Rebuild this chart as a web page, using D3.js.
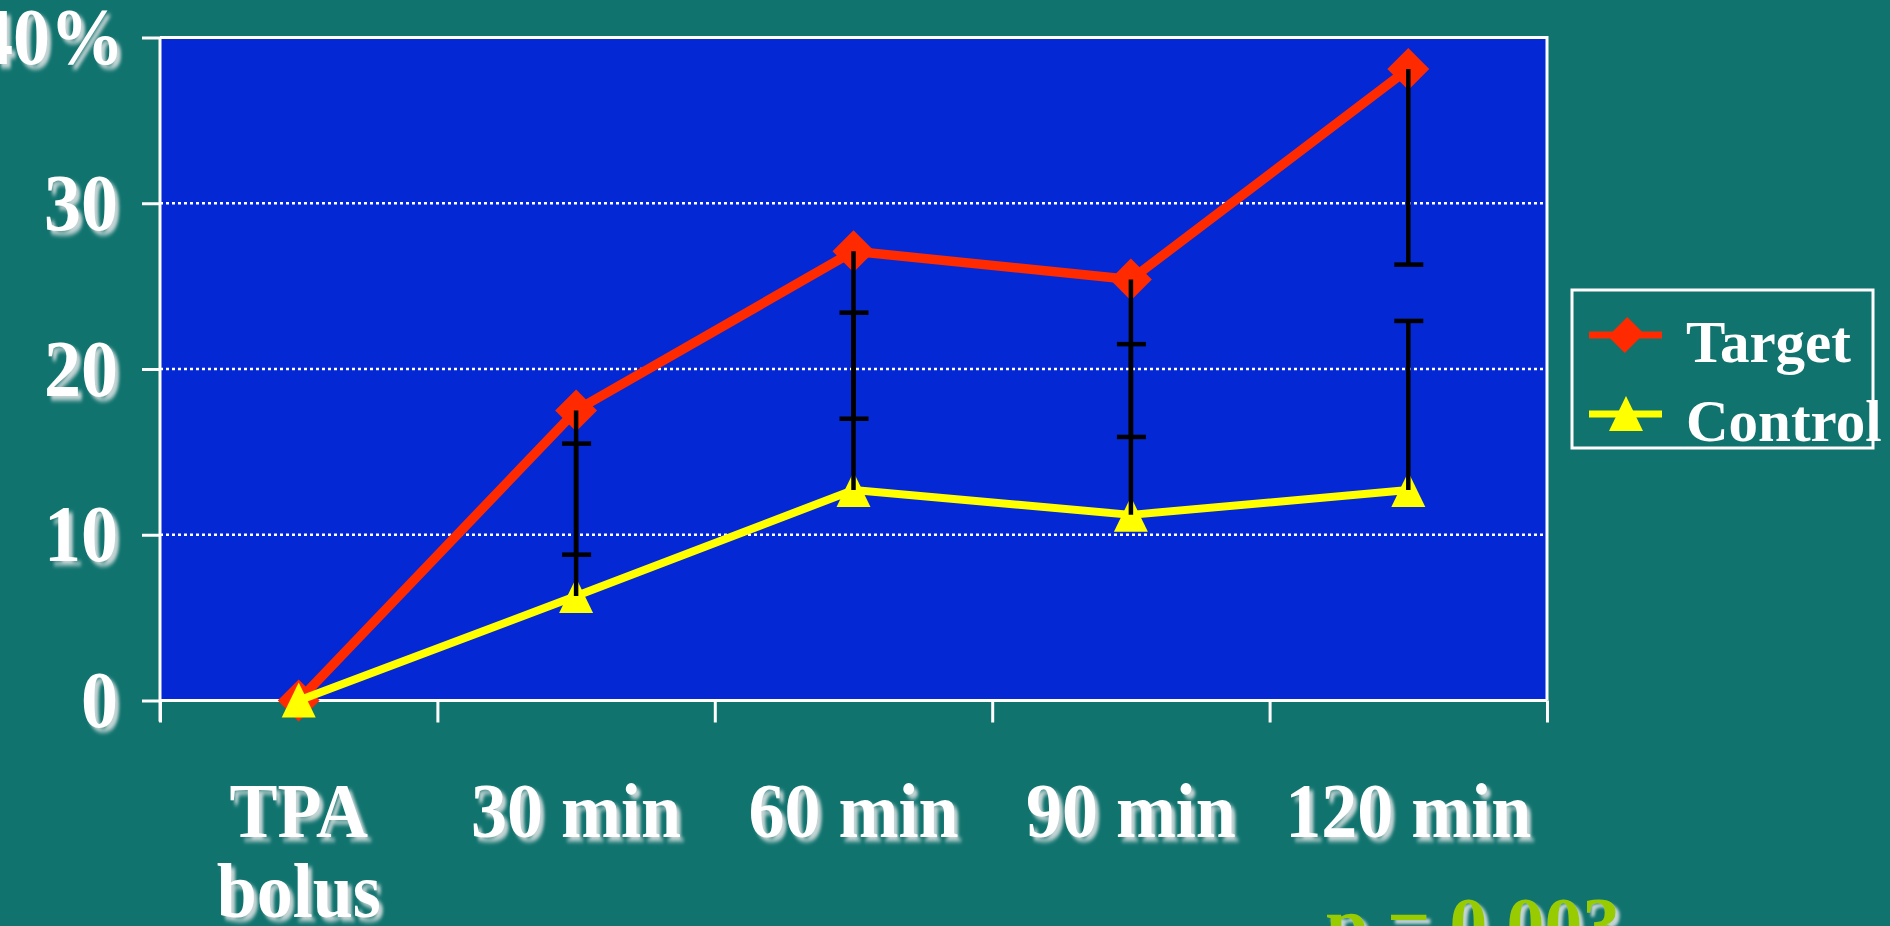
<!DOCTYPE html>
<html>
<head>
<meta charset="utf-8">
<script src="https://cdn.jsdelivr.net/npm/d3@7/dist/d3.min.js"></script>
<style>
  html, body { margin: 0; padding: 0; background: #10736e; overflow: hidden; }
  svg { display: block; }
  text { font-family: "Liberation Serif", "Times New Roman", serif; font-weight: bold; }
</style>
</head>
<body>
<svg id="chart" width="1890" height="926"></svg>
<script>
// Time points after the TPA bolus
const categories = ["TPA\nbolus", "30 min", "60 min", "90 min", "120 min"];
// Percentage values per group
const targetValues  = [0, 17.5, 27.1, 25.4, 38.1];
const controlValues = [0, 6.3, 12.7, 11.2, 12.7];
// One-sided error bars: Target drawn downward, Control drawn upward
const targetErr  = [0, 8.7, 10.1, 9.5, 11.8];
const controlErr = [0, 9.2, 10.7, 10.3, 10.2];
// Y axis ticks
const yTicks = [0, 10, 20, 30, 40];
const seriesNames = ["Target", "Control"];
const pValueText = "p = 0.003";

const colors = { bg: "#10736e", plot: "#0428d3", target: "#ff2a00", control: "#ffff00", p: "#99cc00" };
const margin = { left: 160, right: 1547, top: 37.5, bottom: 700.5 };
const stretch = 1.1; // tall serif labels

const svg = d3.select("#chart");
svg.append("rect").attr("width", 1890).attr("height", 926).attr("fill", colors.bg);

// soft light drop shadow used on axis labels
const defs = svg.append("defs");
const f = defs.append("filter").attr("id", "shadow")
  .attr("x", "-20%").attr("y", "-20%").attr("width", "150%").attr("height", "150%");
f.append("feDropShadow").attr("dx", 4).attr("dy", 4).attr("stdDeviation", 1.8)
  .attr("flood-color", "#d6dede").attr("flood-opacity", 0.9);

const x = d3.scaleBand().domain(categories).range([margin.left, margin.right]).padding(0);
const y = d3.scaleLinear().domain([0, 40]).range([margin.bottom, margin.top]);
const cx = c => x(c) + x.bandwidth() / 2;

// plot background
svg.append("rect")
  .attr("x", margin.left).attr("y", y(40))
  .attr("width", margin.right - margin.left).attr("height", y(0) - y(40))
  .attr("fill", colors.plot);

// dotted gridlines
svg.append("g").selectAll("line").data(yTicks.filter(t => t > 0 && t < 40)).join("line")
  .attr("x1", margin.left).attr("x2", margin.right)
  .attr("y1", d => y(d)).attr("y2", d => y(d))
  .attr("stroke", "#ffffff").attr("stroke-width", 2.5).attr("stroke-dasharray", "3,3");

// frame: top and right edges
svg.append("path")
  .attr("d", `M${margin.left},${y(40)}H${margin.right}V${y(0)}`)
  .attr("fill", "none").attr("stroke", "#ffffff").attr("stroke-width", 3);

// y axis
const yAxis = svg.append("g").attr("transform", `translate(${margin.left},0)`)
  .call(d3.axisLeft(y).tickValues(yTicks).tickSize(18).tickPadding(24)
    .tickFormat(d => d === 40 ? "40%" : d));
yAxis.select(".domain").attr("stroke", "#ffffff").attr("stroke-width", 3)
  .attr("d", `M0,${y(40)}V${y(0) + 21}`);
yAxis.selectAll(".tick line").attr("stroke", "#ffffff").attr("stroke-width", 3);
yAxis.selectAll(".tick text")
  .attr("fill", "#ffffff").attr("font-size", 74).attr("font-family", null)
  .attr("filter", "url(#shadow)")
  .attr("transform", `scale(1,${stretch})`)
  .attr("dx", d => d === 40 ? 6 : 0);

// x axis: boundary ticks between categories
const xb = d3.scaleLinear().domain([0, categories.length]).range([margin.left, margin.right]);
const xTickAxis = svg.append("g").attr("transform", `translate(0,${y(0)})`)
  .call(d3.axisBottom(xb).ticks(categories.length).tickSize(22).tickFormat(""));
xTickAxis.select(".domain").attr("stroke", "#ffffff").attr("stroke-width", 3)
  .attr("d", `M${margin.left},0H${margin.right}`);
xTickAxis.selectAll(".tick line").attr("stroke", "#ffffff").attr("stroke-width", 3);

// x axis: category labels
const xAxis = svg.append("g").attr("transform", `translate(0,${y(0)})`)
  .call(d3.axisBottom(x).tickSize(0).tickFormat(""));
xAxis.select(".domain").remove();
xAxis.selectAll(".tick").each(function(d) {
  const t = d3.select(this).append("text")
    .attr("fill", "#ffffff").attr("font-size", 72).attr("text-anchor", "middle")
    .attr("filter", "url(#shadow)")
    .attr("transform", `scale(1,${stretch})`);
  d.split("\n").forEach((line, i) => {
    t.append("tspan").attr("x", 0).attr("y", (137 + i * 80) / stretch).text(line);
  });
});

// series lines
const line = d3.line().x((d, i) => cx(categories[i])).y(d => y(d));
svg.append("path").datum(targetValues).attr("d", line)
  .attr("fill", "none").attr("stroke", colors.target).attr("stroke-width", 9.5).attr("stroke-linejoin", "round");

const diamond = d3.symbol().type(d3.symbolSquare).size(880);
svg.append("g").selectAll("path").data(targetValues).join("path")
  .attr("d", diamond)
  .attr("transform", (d, i) => `translate(${cx(categories[i])},${y(d)}) rotate(45)`)
  .attr("fill", colors.target);

svg.append("path").datum(controlValues).attr("d", line)
  .attr("fill", "none").attr("stroke", colors.control).attr("stroke-width", 8).attr("stroke-linejoin", "round");

const triPath = "M0,-18L17,17L-17,17Z";
svg.append("g").selectAll("path").data(controlValues).join("path")
  .attr("d", triPath)
  .attr("transform", (d, i) => `translate(${cx(categories[i])},${y(d)})`)
  .attr("fill", colors.control);

// error bars
const bars = [];
categories.forEach((c, i) => {
  if (targetErr[i] > 0) bars.push({ c, from: targetValues[i], to: targetValues[i] - targetErr[i] });
  if (controlErr[i] > 0) bars.push({ c, from: controlValues[i], to: controlValues[i] + controlErr[i] });
});
const eb = svg.append("g").attr("stroke", "#000000").attr("stroke-width", 4.5);
eb.selectAll("line.v").data(bars).join("line").attr("class", "v")
  .attr("x1", d => cx(d.c)).attr("x2", d => cx(d.c))
  .attr("y1", d => y(d.from)).attr("y2", d => y(d.to));
eb.selectAll("line.cap").data(bars).join("line").attr("class", "cap")
  .attr("x1", d => cx(d.c) - 14).attr("x2", d => cx(d.c) + 15)
  .attr("y1", d => y(d.to)).attr("y2", d => y(d.to));

// legend
const lg = svg.append("g").attr("transform", "translate(1572,290)");
lg.append("rect").attr("width", 301).attr("height", 158)
  .attr("fill", "none").attr("stroke", "#ffffff").attr("stroke-width", 3);
const legendItems = lg.selectAll("g.item").data(seriesNames).join("g").attr("class", "item")
  .attr("transform", (d, i) => `translate(0,${45 + i * 79})`);
legendItems.append("line").attr("x1", 17).attr("x2", 90)
  .attr("stroke", (d, i) => i === 0 ? colors.target : colors.control).attr("stroke-width", 7);
legendItems.append("path")
  .attr("d", (d, i) => i === 0 ? d3.symbol().type(d3.symbolSquare).size(560)() : triPath)
  .attr("transform", (d, i) => i === 0 ? "translate(54,0) rotate(45) scale(1,1.15)" : "translate(54,0)")
  .attr("fill", (d, i) => i === 0 ? colors.target : colors.control);
legendItems.append("text").attr("x", 114).attr("y", 27)
  .attr("font-size", 59).attr("fill", "#ffffff").text(d => d);

// significance note
svg.append("text").attr("x", 1326).attr("y", 950)
  .attr("font-size", 76).attr("fill", colors.p).attr("filter", "url(#shadow)")
  .text(pValueText);
</script>
</body>
</html>
